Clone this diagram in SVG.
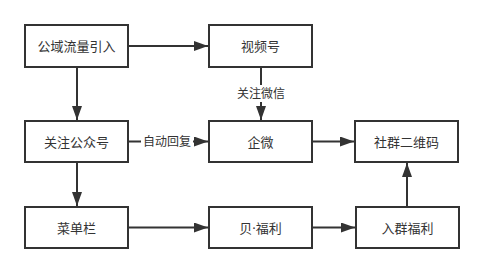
<svg xmlns="http://www.w3.org/2000/svg" width="484" height="274" viewBox="0 0 484 274">
<style>
.box{fill:#fff;stroke:#333;stroke-width:2}
.t{font-family:"Noto Sans","Noto Sans CJK SC",sans-serif;font-size:13px;fill:#333;text-anchor:middle;dominant-baseline:central}
.lbl{font-family:"Noto Sans","Noto Sans CJK SC",sans-serif;font-size:12px;fill:#333;text-anchor:middle;dominant-baseline:central}
.e{stroke:#333;stroke-width:2;fill:none;marker-end:url(#ah)}
.bg{fill:#fff}
</style>
<defs>
<marker id="ah" markerUnits="userSpaceOnUse" markerWidth="14" markerHeight="10" refX="14" refY="5" orient="auto">
<path d="M0,0 L14,5 L0,10 z" fill="#333"/>
</marker>
</defs>
<rect width="484" height="274" fill="#fff"/>
<g id="connectors">
<line class="e" x1="129" y1="46" x2="208" y2="46"/>
<line class="e" x1="77" y1="67" x2="77" y2="120"/>
<line class="e" x1="261" y1="67" x2="261" y2="120"/>
<rect class="bg" x="233" y="85" width="56" height="17"/>
<text class="lbl" x="261" y="93.5">关注微信</text>
<line class="e" x1="129" y1="141.5" x2="208" y2="141.5"/>
<rect class="bg" x="141" y="133" width="52" height="17"/>
<text class="lbl" x="167" y="141.5">自动回复</text>
<line class="e" x1="77" y1="162" x2="77" y2="206"/>
<line class="e" x1="313" y1="141.5" x2="354" y2="141.5"/>
<line class="e" x1="129" y1="227.5" x2="208" y2="227.5"/>
<line class="e" x1="313" y1="227.5" x2="355" y2="227.5"/>
<line class="e" x1="407" y1="207" x2="407" y2="163"/>
</g>
<g id="n1"><rect class="box" x="25" y="25" width="103" height="42"/><text class="t" x="76.5" y="46">公域流量引入</text></g>
<g id="n2"><rect class="box" x="209" y="25" width="103" height="42"/><text class="t" x="260.5" y="46">视频号</text></g>
<g id="n3"><rect class="box" x="25" y="121" width="103" height="41"/><text class="t" x="76.5" y="141.5">关注公众号</text></g>
<g id="n4"><rect class="box" x="209" y="121" width="103" height="41"/><text class="t" x="260.5" y="141.5">企微</text></g>
<g id="n5"><rect class="box" x="355" y="121" width="103" height="41"/><text class="t" x="406.5" y="141.5">社群二维码</text></g>
<g id="n6"><rect class="box" x="25" y="207" width="103" height="41"/><text class="t" x="76.5" y="227.5">菜单栏</text></g>
<g id="n7"><rect class="box" x="209" y="207" width="103" height="41"/><text class="t" x="260.5" y="227.5">贝·福利</text></g>
<g id="n8"><rect class="box" x="356" y="207" width="103" height="41"/><text class="t" x="407.5" y="227.5">入群福利</text></g>
</svg>
